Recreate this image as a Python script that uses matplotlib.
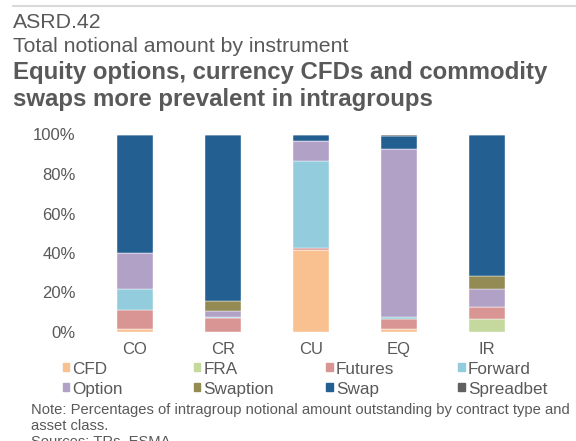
import matplotlib
matplotlib.use("Agg")
import matplotlib.pyplot as plt
from matplotlib.patches import Rectangle
from matplotlib.lines import Line2D
import numpy as np

plt.rcParams['font.family'] = ['Liberation Sans', 'DejaVu Sans']

categories = ["CO", "CR", "CU", "EQ", "IR"]
series_names = ["CFD", "FRA", "Futures", "Forward", "Option", "Swaption", "Swap", "Spreadbet"]
cfd       = [1.3, 0.0, 41.5, 1.6, 0.0]
fra       = [0.0, 0.0, 0.0, 0.0, 6.8]
futures   = [9.7, 7.3, 1.0, 4.9, 5.9]
forward   = [10.6, 0.3, 43.9, 1.2, 0.0]
option    = [18.6, 3.1, 10.5, 85.1, 9.0]
swaption  = [0.0, 5.2, 0.0, 0.0, 6.6]
swap      = [59.4, 84.0, 2.7, 6.4, 71.3]
spreadbet = [0.5, 0.1, 0.4, 0.5, 0.0]
yticks = [0, 20, 40, 60, 80, 100]
ytick_labels = ["0%", "20%", "40%", "60%", "80%", "100%"]

colors = ["#F9C18F", "#C5D89D", "#D99594", "#93CDDD", "#B2A1C7", "#948A54", "#245F91", "#606060"]
series = [cfd, fra, futures, forward, option, swaption, swap, spreadbet]

W, H = 576, 441
fig = plt.figure(figsize=(W / 100, H / 100), dpi=100)
txt = "#595959"

def fx(px):
    return px / W

def fy(py):
    return 1 - py / H

# header
fig.add_artist(Line2D([fx(12.7), 1], [fy(5.7), fy(5.7)], color="#D9D9D9", lw=1.5))
fig.text(fx(12.7), fy(27.7), "ASRD.42", fontsize=15.3, color=txt, va="baseline")
fig.text(fx(12.7), fy(52.3), "Total notional amount by instrument", fontsize=15.3, color=txt, va="baseline")
fig.text(fx(12.7), fy(79), "Equity options, currency CFDs and commodity", fontsize=17.3,
         fontweight="bold", color=txt, va="baseline")
fig.text(fx(12.7), fy(106), "swaps more prevalent in intragroups", fontsize=17.3,
         fontweight="bold", color=txt, va="baseline")

ax_l, ax_r, ax_b, ax_t = 91, 531, 332, 134.5
ax = fig.add_axes([fx(ax_l), fy(ax_b), (ax_r - ax_l) / W, (ax_b - ax_t) / H])
x = np.arange(len(categories))
bottom = np.zeros(len(categories))
for vals, c in zip(series, colors):
    v = np.array(vals)
    ax.bar(x, v, width=0.4, bottom=bottom, color=c, edgecolor="white", linewidth=0.3)
    bottom += v

ax.set_xlim(-0.5, 4.5)
ax.set_ylim(0, 100)
ax.set_yticks(yticks)
ax.set_yticklabels(ytick_labels)
ax.set_xticks(x)
ax.set_xticklabels(categories)
ax.tick_params(axis="y", length=0, pad=11, labelsize=12, labelcolor=txt)
ax.tick_params(axis="x", length=0, pad=7, labelsize=12, labelcolor=txt)
for s in ax.spines.values():
    s.set_visible(False)

# legend
col_x = [62.5, 193.5, 326.0, 458.0]
row_base = [374, 394]
for i, (name, c) in enumerate(zip(series_names, colors)):
    r, cidx = divmod(i, 4)
    px = col_x[cidx]
    base = row_base[r]
    fig.add_artist(Rectangle((fx(px), fy(base - 3)), 6.5 / W, 8.5 / H, color=c,
                             transform=fig.transFigure))
    fig.text(fx(px + 10), fy(base), name, fontsize=12.3, color=txt, va="baseline")

fig.text(fx(31), fy(414),
         "Note: Percentages of intragroup notional amount outstanding by contract type and",
         fontsize=10.6, color=txt, va="baseline")
fig.text(fx(31), fy(430), "asset class.", fontsize=10.6, color=txt, va="baseline")
fig.text(fx(31), fy(446), "Sources: TRs, ESMA.", fontsize=10.6, color=txt, va="baseline")

fig.savefig("out.png", dpi=100)
